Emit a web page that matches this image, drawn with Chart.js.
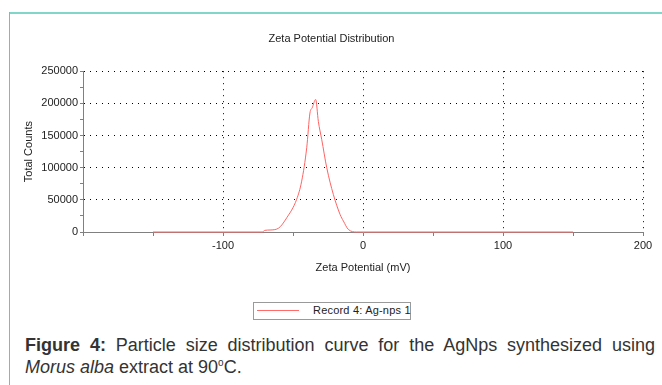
<!DOCTYPE html>
<html>
<head>
<meta charset="utf-8">
<script src="https://cdn.jsdelivr.net/npm/chart.js@4.4.1/dist/chart.umd.min.js"></script>
<style>
  body { margin: 0; background: #fff; font-family: 'Liberation Sans', Arial, sans-serif; }
  #page { position: relative; width: 662px; height: 385px; overflow: hidden; }
  #frameTop { position: absolute; left: 9px; top: 12px; width: 653px; height: 2px; background: #80d6c9; }
  #frameLeft { position: absolute; left: 9px; top: 12px; width: 1px; height: 373px; background: #5ccbb9; }
  #zeta { position: absolute; left: 0; top: 0; }
  #legend { position: absolute; left: 253px; top: 302px; width: 156px; height: 16px; border: 1px solid #9a9a9a; font-size: 11px; color: #222; white-space: nowrap; }
  #legend .swatch { position: absolute; left: 3px; top: 7px; width: 42px; height: 1px; background: #ff6b6b; }
  #legend .lbl { position: absolute; left: 59px; top: 1px; letter-spacing: 0.2px; }
  .cap { position: absolute; left: 25px; width: 630px; font-size: 18px; line-height: 22px; color: #333; white-space: nowrap; }
  #cap1 { top: 334px; text-align: justify; text-align-last: justify; white-space: normal; }
  #cap2 { top: 356px; }
  sup { font-size: 10px; vertical-align: 7px; line-height: 0; }
</style>
</head>
<body>
<div id="page">
  <div id="frameTop"></div>
  <div id="frameLeft"></div>
  <canvas id="zeta" width="662" height="290"></canvas>
  <div id="legend"><div class="swatch"></div><div class="lbl">Record 4: Ag-nps 1</div></div>
  <div class="cap" id="cap1"><b>Figure 4:</b> Particle size distribution curve for the AgNps synthesized using</div>
  <div class="cap" id="cap2"><i>Morus alba</i> extract at 90<sup>o</sup>C.</div>
</div>
<script>
// zeta potential (mV) and total counts for Record 4
let zeta_mv = [-150, -72, -70, -66.4, -60.5, -54.5, -47.4, -43.8, -40.2, -37.9, -36.3, -33.8, -31.9, -29.5, -25.9, -21.2, -16.4, -14, -10.5, -4.5, 150];
let total_counts = [0, 0, 2600, 3100, 5700, 22000, 50700, 79000, 131000, 185000, 193000, 206000, 172000, 144000, 100000, 58500, 27400, 17000, 4100, 0, 0];
let x_ticks = [-100, 0, 100, 200];

const FONT = "'Liberation Sans', Arial, sans-serif";
const points = zeta_mv.map((v, i) => ({x: v, y: total_counts[i]}));

const zeta_chart = new Chart(document.getElementById('zeta'), {
    type: 'line',
    data: {
        datasets: [{
            label: 'Record 4: Ag-nps 1',
            data: points,
            borderColor: '#ff6464',
            borderWidth: 1,
            pointRadius: 0,
            clip: false,
            cubicInterpolationMode: 'monotone'
        }]
    },
    options: {
        responsive: false,
        animation: false,
        devicePixelRatio: 1,
        layout: {padding: {left: 20, right: 19, top: 0, bottom: 0}},
        plugins: {
            legend: {display: false},
            tooltip: {enabled: false},
            title: {
                display: true,
                text: 'Zeta Potential Distribution',
                color: '#222',
                font: {family: FONT, size: 11, weight: 'normal'},
                padding: {top: 32, bottom: 26}
            }
        },
        scales: {
            x: {
                type: 'linear',
                min: -200,
                max: 200,
                afterFit: s => { s.height = 58; },
                ticks: {
                    stepSize: 50,
                    autoSkip: false,
                    maxRotation: 0,
                    padding: 3,
                    color: '#222',
                    font: {family: FONT, size: 11},
                    callback: v => x_ticks.includes(v) ? v : ''
                },
                grid: {
                    color: c => (c.tick && c.tick.value % 100 === 0 && c.tick.value !== -200) ? '#000' : 'rgba(0,0,0,0)',
                    tickColor: '#808080',
                    tickLength: 4,
                    tickBorderDash: []
                },
                border: {color: '#808080', dash: [1, 5]},
                title: {
                    display: true,
                    text: 'Zeta Potential (mV)',
                    color: '#222',
                    font: {family: FONT, size: 11},
                    padding: {top: 0, bottom: 15}
                }
            },
            y: {
                min: 0,
                max: 250000,
                afterFit: s => { s.width = 63; },
                ticks: {
                    stepSize: 25000,
                    autoSkip: false,
                    padding: 2,
                    color: '#222',
                    font: {family: FONT, size: 11},
                    callback: v => v % 50000 === 0 ? v : ''
                },
                grid: {
                    color: c => (c.tick && c.tick.value % 50000 === 0 && c.tick.value !== 0) ? '#000' : 'rgba(0,0,0,0)',
                    tickColor: '#808080',
                    tickLength: 3,
                    tickBorderDash: []
                },
                border: {color: '#808080', dash: [1, 5]},
                title: {
                    display: true,
                    text: 'Total Counts',
                    color: '#222',
                    font: {family: FONT, size: 11},
                    padding: {top: 2, bottom: 0}
                }
            }
        }
    }
});
</script>
</body>
</html>
